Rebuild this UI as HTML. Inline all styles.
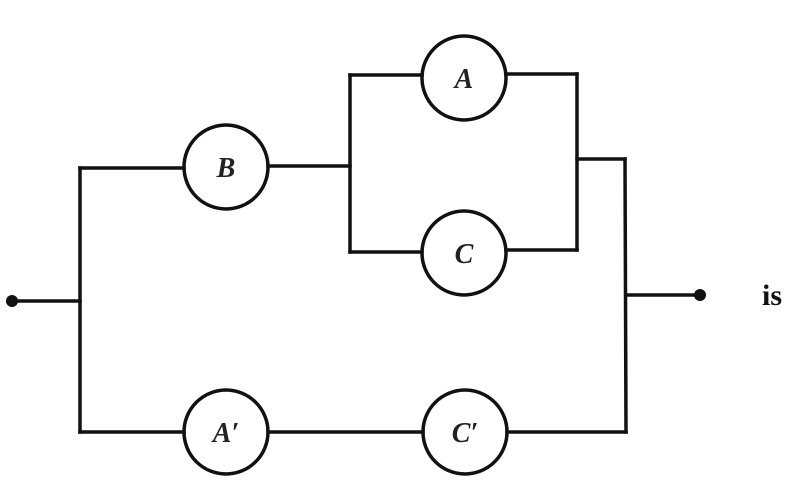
<!DOCTYPE html>
<html><head><meta charset="utf-8"><style>
html,body{margin:0;padding:0;background:#fff;width:800px;height:503px;overflow:hidden}
</style></head><body>
<svg width="800" height="503" viewBox="0 0 800 503" xmlns="http://www.w3.org/2000/svg">
<g fill="none" stroke="#111" stroke-width="3.5" stroke-linejoin="miter" stroke-linecap="square">
<line x1="12" y1="301" x2="80" y2="301"/>
<line x1="80" y1="168" x2="80" y2="432"/>
<line x1="80" y1="168" x2="184" y2="168"/>
<line x1="268" y1="166" x2="350" y2="166"/>
<line x1="350" y1="75" x2="350" y2="252"/>
<line x1="350" y1="75" x2="422" y2="75"/>
<line x1="506" y1="74" x2="577" y2="74"/>
<line x1="350" y1="252" x2="422" y2="252"/>
<line x1="506" y1="250" x2="577" y2="250"/>
<line x1="577" y1="74" x2="577" y2="250"/>
<line x1="577" y1="159" x2="625" y2="159"/>
<line x1="625" y1="159" x2="626" y2="432"/>
<line x1="626" y1="295" x2="700" y2="295"/>
<line x1="80" y1="432" x2="184" y2="432"/>
<line x1="268" y1="432" x2="423" y2="432"/>
<line x1="507" y1="432" x2="626" y2="432"/>
<circle cx="226" cy="167" r="42"/>
<circle cx="464" cy="78" r="42"/>
<circle cx="464" cy="253" r="42"/>
<circle cx="226" cy="432" r="42"/>
<circle cx="465" cy="432" r="42"/>
</g>
<circle cx="12" cy="301" r="6" fill="#111"/>
<circle cx="700" cy="295" r="6" fill="#111"/>
<g font-family="Liberation Serif, serif" font-style="italic" font-weight="bold" font-size="28" fill="#222" text-anchor="middle">
<text x="226" y="177">B</text>
<text x="464" y="88">A</text>
<text x="464" y="263">C</text>
<text x="226" y="442">A′</text>
<text x="465" y="442">C′</text>
</g>
<text x="772" y="305" font-family="Liberation Serif, serif" font-weight="bold" font-size="30" fill="#111" text-anchor="middle">is</text>
</svg>
</body></html>
